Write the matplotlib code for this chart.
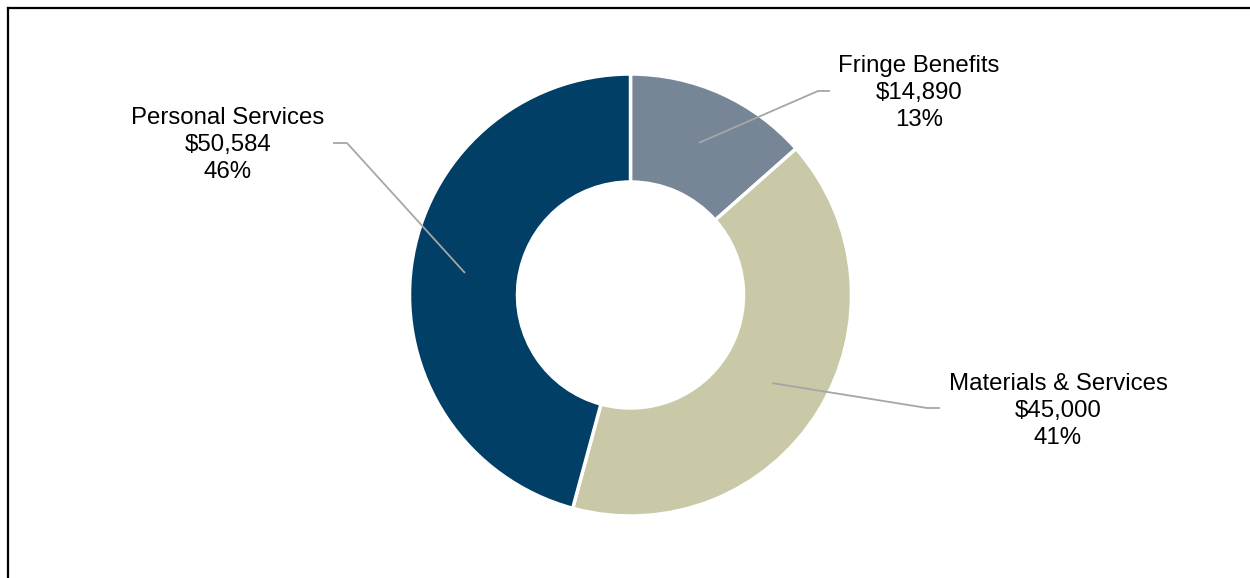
import numpy as np
import matplotlib
matplotlib.use("Agg")
import matplotlib.pyplot as plt
from matplotlib.lines import Line2D

categories = ["Fringe Benefits", "Materials & Services", "Personal Services"]
values = [14890, 45000, 50584]
colors = ["#768696", "#C9C8A7", "#023F66"]

W, H = 1250, 578
fig = plt.figure(figsize=(W / 100, H / 100), dpi=100)
ax = fig.add_axes([0, 0, 1, 1])

cx, cy = 630.5, H - 295
R, r_in = 221, 113
wedges, _ = ax.pie(values, colors=colors, startangle=90, counterclock=False,
                   radius=R, center=(cx, cy),
                   wedgeprops=dict(width=R - r_in, edgecolor="white", linewidth=2.5))
ax.set_xlim(0, W)
ax.set_ylim(0, H)
ax.set_aspect("equal")
ax.axis("off")

total = sum(values)
# layout: (knee point, end point, text center) in pixel coords (y from top)
layout = {
    "Fringe Benefits": ((818, 91), (830, 91), (919, 93)),
    "Materials & Services": ((927, 408), (940, 408), (1058, 411)),
    "Personal Services": ((347, 143), (333, 143), (228, 145)),
}
rm = (R + r_in) / 2
for w, cat, v in zip(wedges, categories, values):
    ang = np.deg2rad((w.theta1 + w.theta2) / 2)
    sx, sy = cx + rm * np.cos(ang), cy + rm * np.sin(ang)
    (kx, ky), (ex, ey), (tx, ty) = layout[cat]
    ax.plot([sx, kx, ex], [sy, H - ky, H - ey], color="#A6A6A6", lw=1.3,
            solid_capstyle="butt", zorder=3)
    pct = round(v / total * 100)
    ax.text(tx, H - ty, f"{cat}\n${v:,}\n{pct}%", ha="center", va="center",
            fontsize=17.3, family="Liberation Sans", color="black",
            linespacing=1.3, zorder=4)

# frame lines (left and top)
fig.add_artist(Line2D([7.5 / W, 7.5 / W], [0, 1 - 7.5 / H], transform=fig.transFigure,
                      color="black", lw=1.6))
fig.add_artist(Line2D([7.5 / W, 1], [1 - 7.5 / H, 1 - 7.5 / H], transform=fig.transFigure,
                      color="black", lw=1.6))

fig.savefig("out.png", dpi=100, facecolor="white")
